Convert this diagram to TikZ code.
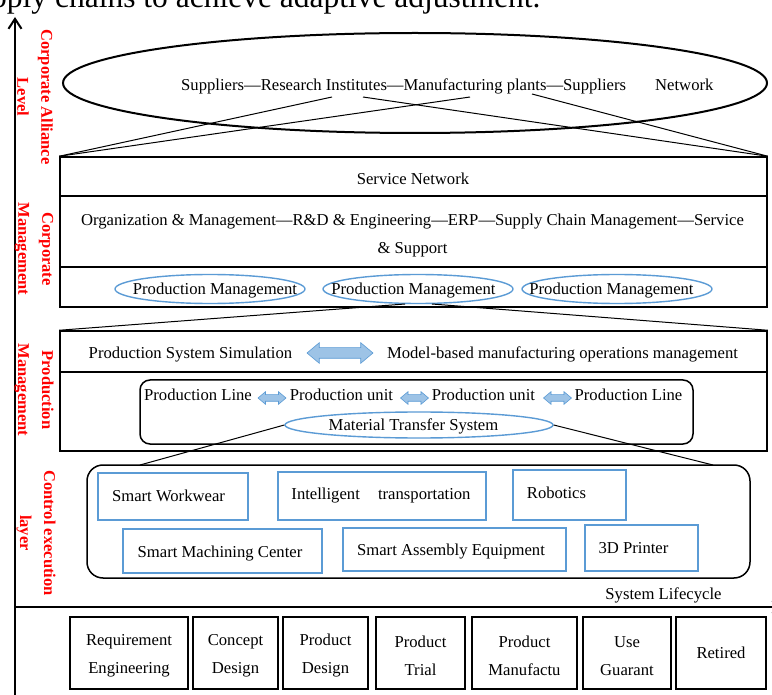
\documentclass[tikz,border=0pt]{standalone}
\usepackage{fontspec}
\setmainfont{Liberation Serif}
\usetikzlibrary{shapes.geometric,shapes.arrows,arrows.meta}
\definecolor{bl}{RGB}{91,155,213}
\definecolor{blfill}{RGB}{157,195,230}
\newcommand{\topstrut}{\rule{0pt}{17.5pt}}
\begin{document}
\begin{tikzpicture}[x=1pt,y=-1pt,
  every node/.style={font=\fontsize{16.65}{28}\selectfont},
  txt/.style={inner sep=0pt,text height=11.5pt,text depth=3.5pt},
  frame/.style={draw,line width=1.5pt,inner sep=0pt},
  bbox/.style={draw=bl,line width=1.7pt,inner sep=0pt},
  lbox/.style={draw,line width=1.8pt,inner sep=0pt,align=center},
  bell/.style={ellipse,draw=bl,line width=1.4pt,inner sep=0pt},
  redlab/.style={text=red,font=\bfseries\fontsize{16.5}{24}\selectfont,rotate=-90,align=center,inner sep=0pt},
  darr/.style={double arrow,draw=bl,fill=blfill,line width=0.6pt,inner xsep=0pt,double arrow tip angle=80},
  conn/.style={line width=1pt},
  axis/.style={line width=2pt,-{Straight Barb[length=10pt,width=13pt,line width=2pt]}}]
\clip (0,0) rectangle (772,695);
\fill[white] (0,0) rectangle (772,695);

% cropped caption text at top
\node[anchor=base west,inner sep=0pt,font=\fontsize{31.5}{36}\selectfont] (cap) at (-9,8) {pply chains to achieve adaptive adjustment.};

% axes
\coordinate (ax0) at (15,700);
\coordinate (ax1) at (15,17);
\draw[axis] (ax0) -- (ax1);
\coordinate (h0) at (15,607);
\coordinate (h1) at (784,607);
\draw[axis] (h0) -- (h1);

% red level labels
\node[redlab] (l1) at (35,97) {Corporate Alliance\\Level};
\node[redlab] (l2) at (34,249) {Corporate\\Management};
\node[redlab] (l3) at (34,390) {Production\\Management};
\node[redlab] (l4) at (36,533) {Control execution\\layer};

% corporate alliance ellipse
\node[ellipse,draw,line width=2pt,minimum width=704pt,minimum height=100pt,inner sep=0pt] (ell) at (415,83) {};
\node[txt,anchor=west] (sup) at (181,86.7) {Suppliers---Research Institutes---Manufacturing plants---Suppliers};
\node[txt,anchor=west] (net) at (655,86.7) {Network};

% corporate management boxes
\node[frame,minimum width=707pt,minimum height=39pt] (sn) at (413.5,176.5) {};
\node[txt] (snt) at (413,181) {Service Network};
\node[frame,minimum width=707pt,minimum height=111pt] (cm) at (413.5,251.5) {};
\coordinate (d1) at (60,267);
\coordinate (d2) at (767,267);
\draw[line width=1.2pt] (d1) -- (d2);
\node[align=center,inner sep=0pt] (org) at (412.5,235.5) {Organization \& Management---R\&D \& Engineering---ERP---Supply Chain Management---Service\\\& Support};

% connectors from alliance text to service network box
\coordinate (e1) at (332,97);
\coordinate (e2) at (470,97);
\coordinate (e3) at (363,97);
\coordinate (e4) at (532,94);
\draw[conn] (sn.north west) -- (e1);
\draw[conn] (sn.north west) -- (e2);
\draw[conn] (sn.north east) -- (e3);
\draw[conn] (sn.north east) -- (e4);

% production management ellipses
\node[bell,minimum width=190pt,minimum height=29pt] (pm1) at (210,289) {};
\node[bell,minimum width=190pt,minimum height=29pt] (pm2) at (418,289) {};
\node[bell,minimum width=190pt,minimum height=29pt] (pm3) at (617,289) {};
\node[txt] (pm1t) at (215,291) {Production Management};
\node[txt] (pm2t) at (413.5,291) {Production Management};
\node[txt] (pm3t) at (611.5,291) {Production Management};

% production layer
\node[frame,minimum width=707pt,minimum height=41pt] (ps) at (413.5,351.5) {};
\node[frame,minimum width=707pt,minimum height=79pt] (pl) at (413.5,411.5) {};
\coordinate (k1) at (405,304);
\coordinate (k2) at (432,304);
\draw[conn] (ps.north west) -- (k1);
\draw[conn] (k2) -- (ps.north east);
\node[txt] (pss) at (190.5,355) {Production System Simulation};
\node[darr,minimum height=66pt,minimum width=20pt,inner ysep=5pt,double arrow head extend=5pt] (da0) at (340,353) {};
\node[txt] (mbm) at (562.5,355) {Model-based manufacturing operations management};

\node[frame,rounded corners=10pt,minimum width=553pt,minimum height=64pt] (inner) at (416.5,412) {};
\node[txt] (r1) at (198,397) {Production Line};
\node[darr,minimum height=28pt,minimum width=12pt,inner ysep=3pt,double arrow head extend=3pt] (da1) at (272,398) {};
\node[txt] (r2) at (341.5,397) {Production unit};
\node[darr,minimum height=28pt,minimum width=12pt,inner ysep=3pt,double arrow head extend=3pt] (da2) at (414.5,398) {};
\node[txt] (r3) at (483.5,397) {Production unit};
\node[darr,minimum height=28pt,minimum width=12pt,inner ysep=3pt,double arrow head extend=3pt] (da3) at (557.5,398) {};
\node[txt] (r4) at (628.5,397) {Production Line};
\node[bell,minimum width=268pt,minimum height=26pt] (mts) at (419,425) {};
\node[txt] (mtst) at (413.5,426) {Material Transfer System};

% control execution layer
\node[frame,rounded corners=16pt,minimum width=663pt,minimum height=113pt] (ce) at (418.5,521.5) {};
\coordinate (c1) at (140,465);
\coordinate (c2) at (713,465);
\draw[conn] (mts.west) -- (c1);
\draw[conn] (mts.east) -- (c2);

\node[bbox,minimum width=150pt,minimum height=47pt] (sw) at (173,496.5) {};
\node[bbox,minimum width=208pt,minimum height=48pt] (it) at (382,496) {};
\node[bbox,minimum width=113pt,minimum height=50pt] (rb) at (569.5,495) {};
\node[bbox,minimum width=199pt,minimum height=44pt] (smc) at (222.5,551) {};
\node[bbox,minimum width=223pt,minimum height=43pt] (sae) at (454.5,549.5) {};
\node[bbox,minimum width=113pt,minimum height=46pt] (p3) at (641.5,548) {};
\node[txt] (swt) at (168.5,497) {Smart Workwear};
\node[txt] (itt) at (381,495) {Intelligent\hspace{14pt} transportation};
\node[txt] (rbt) at (556.5,494) {Robotics};
\node[txt] (smct) at (220,553) {Smart Machining Center};
\node[txt] (saet) at (451,551) {Smart Assembly Equipment};
\node[txt] (p3t) at (633.5,549) {3D Printer};
\node[txt] (slc) at (663.5,595) {System Lifecycle};

% lifecycle stages
\node[lbox,minimum width=118pt,minimum height=72pt] (s1) at (129,653) {\topstrut Requirement\\Engineering};
\node[lbox,minimum width=85pt,minimum height=72pt] (s2) at (235.5,653) {\topstrut Concept\\Design};
\node[lbox,minimum width=85pt,minimum height=72pt] (s3) at (325.5,653) {\topstrut Product\\Design};
\node[lbox,minimum width=89pt,minimum height=72pt] (s4) at (420.5,653) {\topstrut Product\\Trial};
\node[lbox,minimum width=105pt,minimum height=72pt] (s5) at (524.5,653) {\topstrut Product\\Manufactu};
\node[lbox,minimum width=88pt,minimum height=72pt] (s6) at (627,653) {\topstrut Use\\Guarant};
\node[lbox,minimum width=90pt,minimum height=72pt] (s7) at (721,653) {Retired};
\end{tikzpicture}
\end{document}
